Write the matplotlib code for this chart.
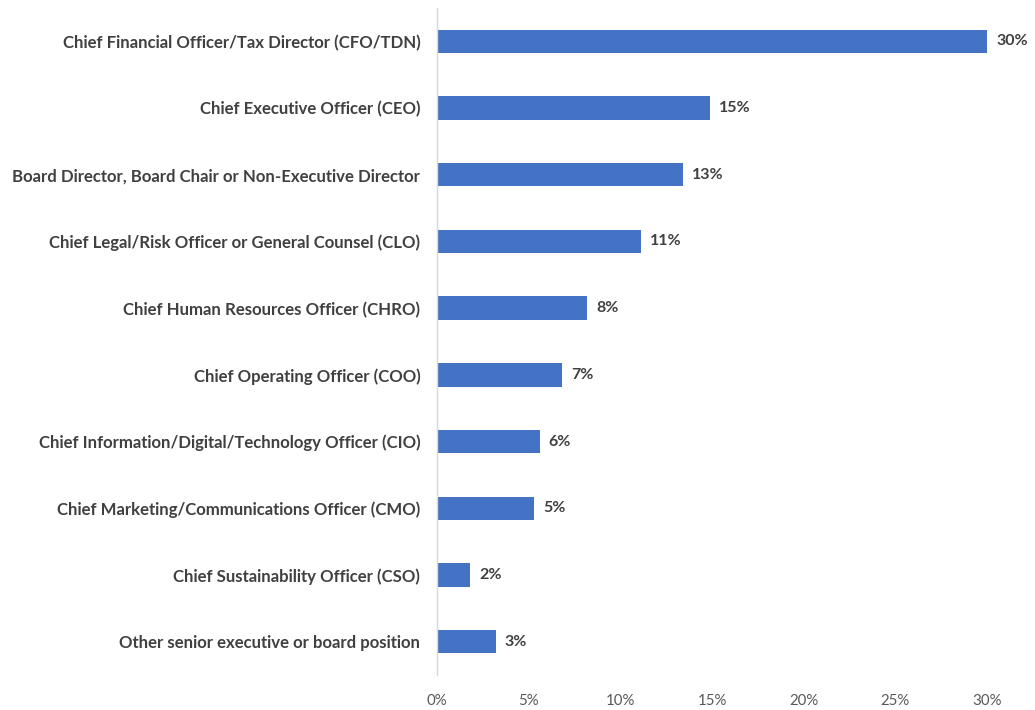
import matplotlib
matplotlib.use("Agg")
import matplotlib.pyplot as plt

# Share of respondents by role (%)
roles = [
    "Chief Financial Officer/Tax Director (CFO/TDN)",
    "Chief Executive Officer (CEO)",
    "Board Director, Board Chair or Non-Executive Director",
    "Chief Legal/Risk Officer or General Counsel (CLO)",
    "Chief Human Resources Officer (CHRO)",
    "Chief Operating Officer (COO)",
    "Chief Information/Digital/Technology Officer (CIO)",
    "Chief Marketing/Communications Officer (CMO)",
    "Chief Sustainability Officer (CSO)",
    "Other senior executive or board position",
]
shares = [30.0, 14.9, 13.4, 11.1, 8.2, 6.8, 5.6, 5.3, 1.8, 3.2]
x_ticks = [0, 5, 10, 15, 20, 25, 30]
x_tick_labels = ["0%", "5%", "10%", "15%", "20%", "25%", "30%"]

BAR_COLOR = "#4472C4"
TEXT_DARK = "#404040"
TEXT_TICK = "#595959"
FONT = ["Lato", "DejaVu Sans"]

fig = plt.figure(figsize=(10.35, 7.1), dpi=100)
ax = fig.add_axes([437 / 1035, 35 / 710, 550 / 1035, 667 / 710])

positions = list(range(len(roles)))
ax.barh(positions, shares, height=0.35, color=BAR_COLOR, zorder=2)

for pos, val in zip(positions, shares):
    ax.text(val + 0.5, pos, f"{val:.0f}%", va="center", ha="left",
            fontsize=11.5, fontweight="bold", color=TEXT_DARK,
            family=FONT, clip_on=False)

ax.set_ylim(len(roles) - 0.5, -0.5)
ax.set_xlim(0, 30)
ax.set_yticks(positions)
ax.set_yticklabels(roles, fontsize=12.1, fontweight="bold", color=TEXT_DARK,
                   family=FONT)
ax.set_xticks(x_ticks)
ax.set_xticklabels(x_tick_labels, fontsize=10.8, color=TEXT_TICK, family=FONT)
ax.tick_params(axis="y", length=0, pad=12)
ax.tick_params(axis="x", length=0, pad=14)

for side in ("top", "right", "bottom"):
    ax.spines[side].set_visible(False)
ax.spines["left"].set_color("#D9D9D9")
ax.spines["left"].set_linewidth(1.0)

fig.savefig("out.png", dpi=100, facecolor="white")
